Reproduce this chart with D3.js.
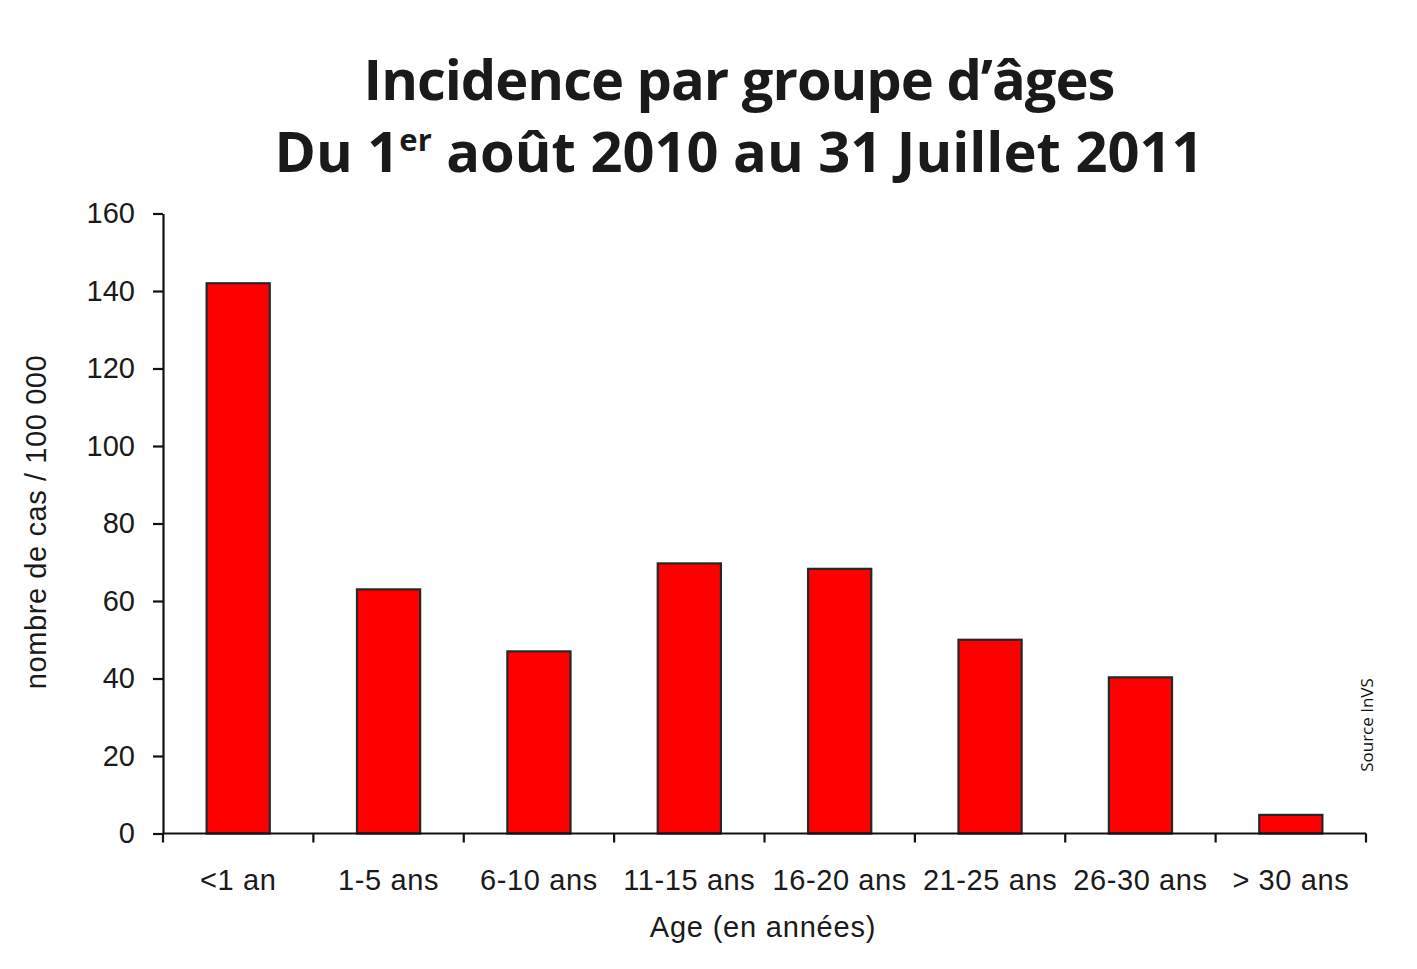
<!DOCTYPE html>
<html>
<head>
<meta charset="utf-8">
<script src="https://cdn.jsdelivr.net/npm/d3@7"></script>
<style>
  html, body { margin: 0; padding: 0; background: #fff; }
  svg { display: block; }
</style>
</head>
<body>
<svg id="chart" width="1417" height="969"></svg>
<script>
const categories = ["<1 an", "1-5 ans", "6-10 ans", "11-15 ans", "16-20 ans", "21-25 ans", "26-30 ans", "> 30 ans"];
const values = [142, 63, 47, 69.7, 68.3, 50, 40.3, 4.8];
const yTicks = [0, 20, 40, 60, 80, 100, 120, 140, 160];
const titleLine1 = "Incidence par groupe d’âges";
const titleLine2Parts = ["Du 1", "er", " août 2010 au 31 Juillet 2011"];
const xTitle = "Age (en années)";
const yTitle = "nombre de cas / 100 000";
const sourceText = "Source InVS";

const svg = d3.select("#chart");
const textColor = "#1a1a1a";
const axisFont = "'Liberation Sans', Arial, sans-serif";

const x = d3.scaleBand().domain(categories).range([163, 1366]).padding(0);
const y = d3.scaleLinear().domain([0, 160]).range([833.5, 213.5]);

// Title
const titleG = svg.append("g")
  .attr("font-family", "'Open Sans', sans-serif")
  .attr("font-weight", 700)
  .attr("fill", textColor)
  .attr("text-anchor", "middle");
titleG.append("text").attr("x", 739).attr("y", 100)
  .attr("font-size", 56).attr("letter-spacing", -1).text(titleLine1);
const t2 = titleG.append("text").attr("x", 739).attr("y", 172).attr("font-size", 56);
t2.append("tspan").text(titleLine2Parts[0]);
t2.append("tspan").attr("font-size", 31).attr("dy", -21).text(titleLine2Parts[1]);
t2.append("tspan").attr("dy", 21).text(titleLine2Parts[2]);

// Bars
const barW = x.bandwidth() * 0.42;
svg.append("g").selectAll("rect").data(values).join("rect")
  .attr("x", (d, i) => x(categories[i]) + (x.bandwidth() - barW) / 2)
  .attr("y", d => y(d))
  .attr("width", barW)
  .attr("height", d => y(0) - y(d))
  .attr("fill", "#ff0000")
  .attr("stroke", "#1f2b2b")
  .attr("stroke-width", 2.2);

// Y axis
const yAxis = d3.axisLeft(y).tickValues(yTicks).tickSize(10).tickPadding(18).tickSizeOuter(0);
const yg = svg.append("g").attr("transform", "translate(163,0)").call(yAxis);
yg.select(".domain").attr("stroke", "#111").attr("stroke-width", 2.2);
yg.selectAll(".tick line").attr("stroke", "#111").attr("stroke-width", 2.2);
yg.selectAll(".tick text")
  .attr("font-family", axisFont).attr("font-size", 29).attr("fill", textColor)
  .attr("letter-spacing", 0);

// X axis line and boundary ticks
const xg = svg.append("g");
xg.append("line").attr("x1", x.range()[0]).attr("x2", x.range()[1])
  .attr("y1", y(0)).attr("y2", y(0)).attr("stroke", "#111").attr("stroke-width", 2.2);
const bounds = categories.map(c => x(c)).concat([x.range()[1]]);
xg.selectAll("line.b").data(bounds).join("line").attr("class", "b")
  .attr("x1", d => d).attr("x2", d => d)
  .attr("y1", y(0)).attr("y2", y(0) + 9)
  .attr("stroke", "#111").attr("stroke-width", 2.2);
const xAxis = d3.axisBottom(x).tickSize(0).tickPadding(0);
const xl = svg.append("g").attr("transform", `translate(0,${y(0)})`).call(xAxis);
xl.select(".domain").remove();
xl.selectAll(".tick text")
  .attr("font-family", axisFont).attr("font-size", 29).attr("fill", textColor)
  .attr("letter-spacing", 0.6).attr("dy", 0).attr("y", 56);

// Axis titles
svg.append("text").attr("x", 763).attr("y", 937)
  .attr("text-anchor", "middle").attr("font-family", axisFont).attr("font-size", 29)
  .attr("letter-spacing", 0.8).attr("fill", textColor).text(xTitle);
svg.append("text").attr("transform", "translate(46,522) rotate(-90)")
  .attr("text-anchor", "middle").attr("font-family", axisFont).attr("font-size", 29)
  .attr("letter-spacing", 0.6).attr("fill", textColor).text(yTitle);

// Source
svg.append("text").attr("transform", "translate(1373,725) rotate(-90)")
  .attr("text-anchor", "middle").attr("font-family", "'Open Sans', sans-serif").attr("font-size", 17)
  .attr("font-weight", 500).attr("fill", "#111").text(sourceText);
</script>
</body>
</html>
